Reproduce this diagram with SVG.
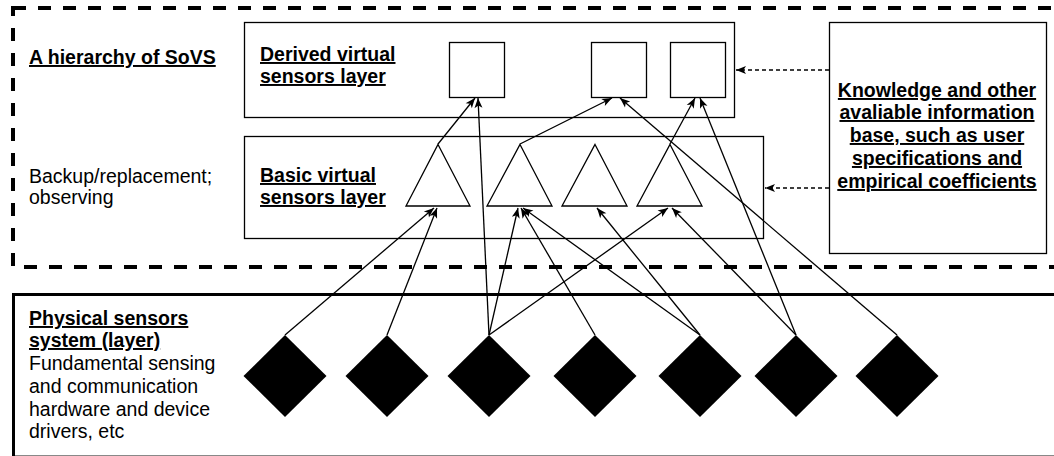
<svg xmlns="http://www.w3.org/2000/svg" width="1054" height="456" viewBox="0 0 1054 456">
  <defs>
    <marker id="arrow" markerUnits="userSpaceOnUse" markerWidth="11" markerHeight="9" viewBox="0 0 11 9" refX="10.5" refY="4.5" orient="auto">
      <path d="M0.5,0.5 L10.5,4.5 L0.5,8.5 L3,4.5 Z" fill="#000"/>
    </marker>
    <style>
      text { font-family: "Liberation Sans", Arial, Helvetica, sans-serif; font-size: 19.5px; fill: #000; }
      .b { font-weight: bold; text-decoration: underline; }
      .box { fill: #fff; stroke: #000; stroke-width: 1.3; }
      .tri { fill: #fff; stroke: #000; stroke-width: 1.3; stroke-linejoin: miter; }
      .dia { fill: #000; }
      .link { fill: none; stroke: #000; stroke-width: 1.3; marker-end: url(#arrow); }
      .info { fill: none; stroke: #000; stroke-width: 1.3; stroke-dasharray: 4 3; marker-end: url(#arrow); }
    </style>
  </defs>

  <rect width="1054" height="456" fill="#fff"/>

  <!-- SoVS hierarchy region -->
  <g id="sovs-region">
    <rect x="13" y="8" width="1070" height="259" fill="none" stroke="#000" stroke-width="4" stroke-dasharray="13 12"/>
    <text class="b" x="29" y="64">A hierarchy of SoVS</text>
    <text x="29" y="183">Backup/replacement;</text>
    <text x="29" y="204">observing</text>
  </g>

  <!-- Physical sensors system -->
  <g id="physical-layer">
    <rect x="13.5" y="294.5" width="1070" height="200" fill="none" stroke="#000" stroke-width="3"/>
    <line x1="15" y1="455.5" x2="1054" y2="455.5" stroke="#888" stroke-width="1"/>
    <text class="b" x="29" y="325">Physical sensors</text>
    <text class="b" x="29" y="347">system (layer)</text>
    <text x="29" y="370">Fundamental sensing</text>
    <text x="29" y="393">and communication</text>
    <text x="29" y="416">hardware and device</text>
    <text x="29" y="438">drivers, etc</text>
  </g>

  <!-- Derived virtual sensors layer -->
  <g id="derived-layer">
    <rect class="box" x="244.5" y="22.5" width="490" height="95"/>
    <text class="b" x="260" y="61">Derived virtual</text>
    <text class="b" x="260" y="83">sensors layer</text>
  </g>
  <g id="derived-1"><rect class="box" x="449.5" y="42.5" width="55" height="55"/></g>
  <g id="derived-2"><rect class="box" x="591.5" y="42.5" width="55" height="55"/></g>
  <g id="derived-3"><rect class="box" x="670.5" y="42.5" width="55" height="55"/></g>

  <!-- Basic virtual sensors layer -->
  <g id="basic-layer">
    <rect class="box" x="244.5" y="136.5" width="519" height="102"/>
    <text class="b" x="260" y="182">Basic virtual</text>
    <text class="b" x="260" y="204">sensors layer</text>
  </g>
  <g id="basic-1"><polygon class="tri" points="438,144.5 470,206 406,206"/></g>
  <g id="basic-2"><polygon class="tri" points="520,144.5 552,206 487,206"/></g>
  <g id="basic-3"><polygon class="tri" points="595,144.5 627,206 562,206"/></g>
  <g id="basic-4"><polygon class="tri" points="670,144.5 702,206 637,206"/></g>

  <!-- Knowledge base -->
  <g id="knowledge">
    <rect class="box" x="829.5" y="22.5" width="217" height="231"/>
    <text class="b" x="937" y="97" text-anchor="middle">Knowledge and other</text>
    <text class="b" x="937" y="119" text-anchor="middle">avaliable information</text>
    <text class="b" x="937" y="142" text-anchor="middle">base, such as user</text>
    <text class="b" x="937" y="165" text-anchor="middle">specifications and</text>
    <text class="b" x="937" y="188" text-anchor="middle">empirical coefficients</text>
  </g>

  <!-- Physical sensors -->
  <g id="sensor-1"><polygon class="dia" points="285,335 326.5,376 285,417 243.5,376"/></g>
  <g id="sensor-2"><polygon class="dia" points="387,335 428.5,376 387,417 345.5,376"/></g>
  <g id="sensor-3"><polygon class="dia" points="489,335 530.5,376 489,417 447.5,376"/></g>
  <g id="sensor-4"><polygon class="dia" points="595,335 636.5,376 595,417 553.5,376"/></g>
  <g id="sensor-5"><polygon class="dia" points="700,335 741.5,376 700,417 658.5,376"/></g>
  <g id="sensor-6"><polygon class="dia" points="796,335 837.5,376 796,417 754.5,376"/></g>
  <g id="sensor-7"><polygon class="dia" points="897,335 938.5,376 897,417 855.5,376"/></g>

  <!-- Connectors -->
  <g id="connectors">
    <line class="link" x1="285" y1="335" x2="434" y2="208"/>
    <line class="link" x1="387" y1="335" x2="437" y2="208"/>
    <line class="link" x1="489" y1="335" x2="478" y2="98"/>
    <line class="link" x1="489" y1="335" x2="518" y2="208"/>
    <line class="link" x1="489" y1="335" x2="668" y2="208"/>
    <line class="link" x1="595" y1="335" x2="521" y2="208"/>
    <line class="link" x1="700" y1="335" x2="523" y2="208"/>
    <line class="link" x1="700" y1="335" x2="597" y2="208"/>
    <line class="link" x1="796" y1="335" x2="672" y2="208"/>
    <line class="link" x1="796" y1="335" x2="700" y2="98"/>
    <line class="link" x1="897" y1="335" x2="620" y2="98"/>
    <line class="link" x1="438" y1="144" x2="475" y2="98"/>
    <line class="link" x1="520" y1="144" x2="612" y2="98"/>
    <line class="link" x1="670" y1="144" x2="695" y2="98"/>
    <line class="info" x1="829" y1="70" x2="736" y2="70"/>
    <line class="info" x1="829" y1="188" x2="765" y2="188"/>
  </g>
</svg>
